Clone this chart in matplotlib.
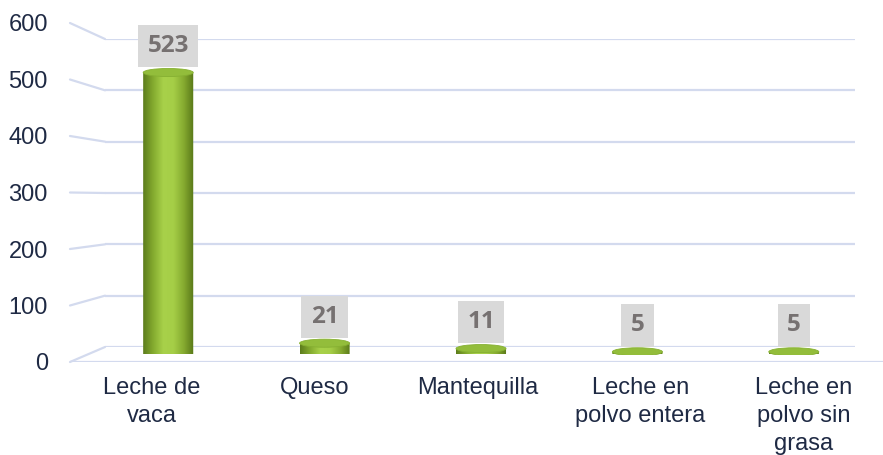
"""3D-style cylinder bar chart: dairy products count."""

import numpy as np
import matplotlib

matplotlib.use("Agg")
import matplotlib.pyplot as plt
from matplotlib.colors import LinearSegmentedColormap
from matplotlib.patches import Ellipse, ConnectionPatch, PathPatch
from matplotlib.path import Path

categories = [
    "Leche de\nvaca",
    "Queso",
    "Mantequilla",
    "Leche en\npolvo entera",
    "Leche en\npolvo sin\ngrasa",
]
values = [523, 21, 11, 5, 5]
yticks = [0, 100, 200, 300, 400, 500, 600]

GRID = "#d3daee"
TXT = "#1f2a44"
W, H = 883, 455

plt.rcParams["font.family"] = ["Liberation Sans", "DejaVu Sans"]

fig = plt.figure(figsize=(W / 100, H / 100), dpi=100)


def px_axes(left, bottom_y, right, top_y):
    # pixel box (image coords, y down) -> figure axes
    return fig.add_axes(
        [left / W, (H - bottom_y) / H, (right - left) / W, (bottom_y - top_y) / H]
    )


ax_back = px_axes(105, 347, 855, 39)
ax_mid = px_axes(90, 354.5, 872, 31)
ax_front = px_axes(70, 362, 885, 23)

for ax in (ax_back, ax_mid, ax_front):
    ax.set_xlim(-0.5, len(categories) - 0.5)
    ax.set_ylim(0, 600)
    ax.patch.set_visible(False)
    for s in ax.spines.values():
        s.set_visible(False)

# back wall grid + side wall slants
ax_back.set_xticks([])
ax_back.set_yticks([])
for v in yticks:
    ax_back.axhline(v, color=GRID, lw=1.6)
    fig.add_artist(
        ConnectionPatch(
            xyA=(0, v), coordsA=ax_front.get_yaxis_transform(),
            xyB=(0, v), coordsB=ax_back.get_yaxis_transform(),
            color=GRID, lw=1.6,
        )
    )
ax_front.axhline(0, color=GRID, lw=1.6)

# cylinders
cmap = LinearSegmentedColormap.from_list(
    "cyl", ["#5c7c1c", "#84ab2f", "#a8d14a", "#a5ce47", "#86ab30", "#587718"]
)
grad = np.linspace(0, 1, 256)[None, :]
bw = 0.32
eh = 15
for i, v in enumerate(values):
    x0, x1 = i - bw / 2, i + bw / 2
    t = np.linspace(np.pi, 2 * np.pi, 40)
    arc = np.column_stack([i + bw / 2 * np.cos(t), eh / 2 * np.sin(t)])
    verts = np.vstack([[[x0, v]], arc, [[x1, v]], [[x0, v]]])
    clip = PathPatch(Path(verts), transform=ax_mid.transData)
    im = ax_mid.imshow(grad, cmap=cmap, extent=(x0, x1, -eh / 2, v),
                       aspect="auto", zorder=2)
    im.set_clip_path(clip)
    ax_mid.add_patch(Ellipse((i, v), bw, eh, facecolor="#93bd3b",
                             edgecolor="#86b032", lw=0.6, zorder=3))
    ax_mid.annotate(
        str(v), (i, v), xytext=(0, 19), textcoords="offset points",
        ha="center", va="center", fontsize=17.5, fontweight="bold",
        color="#767171", family=["Open Sans", "DejaVu Sans"],
        bbox=dict(boxstyle="square,pad=0.38", fc="#d9d9d9", ec="none"), zorder=4,
    )
ax_mid.set_xlim(-0.5, len(categories) - 0.5)
ax_mid.set_ylim(0, 600)
ax_mid.set_xticks([])
ax_mid.set_yticks([])

# front labels
ax_front.set_yticks(yticks)
ax_front.set_xticks(range(len(categories)))
ax_front.set_xticklabels(categories, linespacing=1.35)
ax_front.tick_params(axis="y", length=0, pad=16, labelsize=17, labelcolor=TXT)
ax_front.tick_params(axis="x", length=0, pad=11, labelsize=17, labelcolor=TXT)

fig.savefig("out.png", dpi=100)
